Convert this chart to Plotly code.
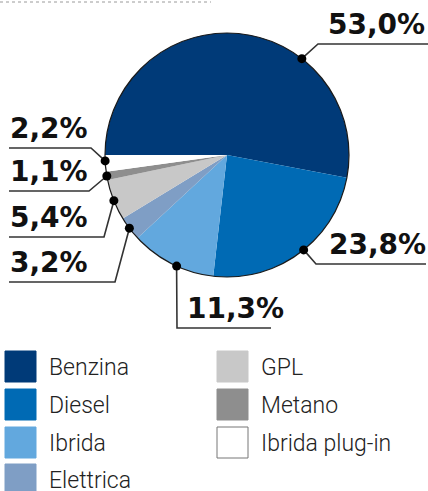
import plotly.graph_objects as go
import math

# ---- data ----
categories = ["Benzina", "Diesel", "Ibrida", "Elettrica", "GPL", "Metano", "Ibrida plug-in"]
values = [53.0, 23.8, 11.3, 3.2, 5.4, 1.1, 2.2]
colors = ["#003A78", "#006AB4", "#62A8DE", "#7F9EC5", "#C8C8C8", "#8E8E8E", "#FFFFFF"]
pct_labels = [f"{v:.1f}".replace(".", ",") + "%" for v in values]

# ---- layout constants (pixels) ----
W, H = 428, 491
CX, CY, R = 227, 155, 122
ROTATION = 270  # first slice starts at 9 o'clock, clockwise
# fraction along each slice where the leader dot sits
anchor_frac = [0.67, 0.47, 0.44, 0.52, 0.48, 0.5, 0.65]
# leader geometry: (elbow_x, elbow_y, end_x, text_x)
leader = [
    (318, 44, 428, 326),
    (316, 264, 426, 327),
    (177, 328, 271, 185),
    (115, 282, 9, 8),
    (104, 237, 9, 8),
    (89, 191, 9, 8),
    (91, 148, 9, 8),
]

fig = go.Figure()

fig.add_trace(go.Pie(
    labels=categories, values=values, sort=False, direction="clockwise",
    rotation=ROTATION, textinfo="none", hoverinfo="label+percent",
    marker=dict(colors=colors, line=dict(width=0)),
    domain=dict(x=[(CX - R) / W, (CX + R) / W], y=[1 - (CY + R) / H, 1 - (CY - R) / H]),
    showlegend=False,
))

shapes = []
annotations = []

# outline of pie
shapes.append(dict(type="circle", xref="x", yref="y", x0=CX - R, x1=CX + R, y0=CY - R, y1=CY + R,
                   line=dict(color="#1a1a1a", width=1.2), fillcolor="rgba(0,0,0,0)", layer="above"))

# top dotted rule
shapes.append(dict(type="line", xref="x", yref="y", x0=0, x1=211, y0=2, y1=2,
                   line=dict(color="#9a9a9a", width=1, dash="dot")))

total = sum(values)
cum = 0.0
for i, v in enumerate(values):
    ang = ROTATION + 360 * (cum + anchor_frac[i] * v) / total
    cum += v
    a = math.radians(ang)
    dx = CX + R * math.sin(a)
    dy = CY - R * math.cos(a)
    ex, ey, endx, tx = leader[i]
    shapes.append(dict(type="path", xref="x", yref="y",
                       path=f"M {dx:.1f} {dy:.1f} L {ex} {ey} L {endx} {ey}",
                       line=dict(color="#333333", width=1.6)))
    shapes.append(dict(type="circle", xref="x", yref="y", x0=dx - 4.5, x1=dx + 4.5, y0=dy - 4.5, y1=dy + 4.5,
                       fillcolor="#000000", line=dict(width=0), layer="above"))
    annotations.append(dict(xref="x", yref="y", x=tx, y=ey - 1, text=pct_labels[i], showarrow=False,
                            xanchor="left", yanchor="bottom",
                            font=dict(family="DejaVu Sans", size=28, color="#111111", weight="bold")))

# legend (manual)
leg_cols = [(5, 47), (217, 259)]
leg_rows = [351, 389, 427, 464]
SQ = 31
order = [(0, 0), (0, 1), (0, 2), (0, 3), (1, 0), (1, 1), (1, 2)]
for i, (c, r) in enumerate(order):
    sx, tx = leg_cols[c]
    sy = leg_rows[r]
    shapes.append(dict(type="rect", xref="x", yref="y", x0=sx, x1=sx + SQ, y0=sy, y1=sy + SQ,
                       fillcolor=colors[i],
                       line=dict(color="#777777" if colors[i] == "#FFFFFF" else colors[i], width=1)))
    annotations.append(dict(xref="x", yref="y", x=tx, y=sy + SQ / 2 + 1, text=categories[i], showarrow=False,
                            xanchor="left", yanchor="middle",
                            font=dict(family="Roboto", size=23, color="#222222", weight=300)))

fig.update_layout(
    width=W, height=H, margin=dict(l=0, r=0, t=0, b=0),
    paper_bgcolor="white", plot_bgcolor="rgba(0,0,0,0)",
    xaxis=dict(range=[0, W], visible=False, fixedrange=True),
    yaxis=dict(range=[H, 0], visible=False, fixedrange=True),
    shapes=shapes, annotations=annotations, showlegend=False,
)

fig.write_html("out.html", config={"displayModeBar": False},
               post_script="document.body.style.margin='0';document.body.style.overflow='hidden';")
